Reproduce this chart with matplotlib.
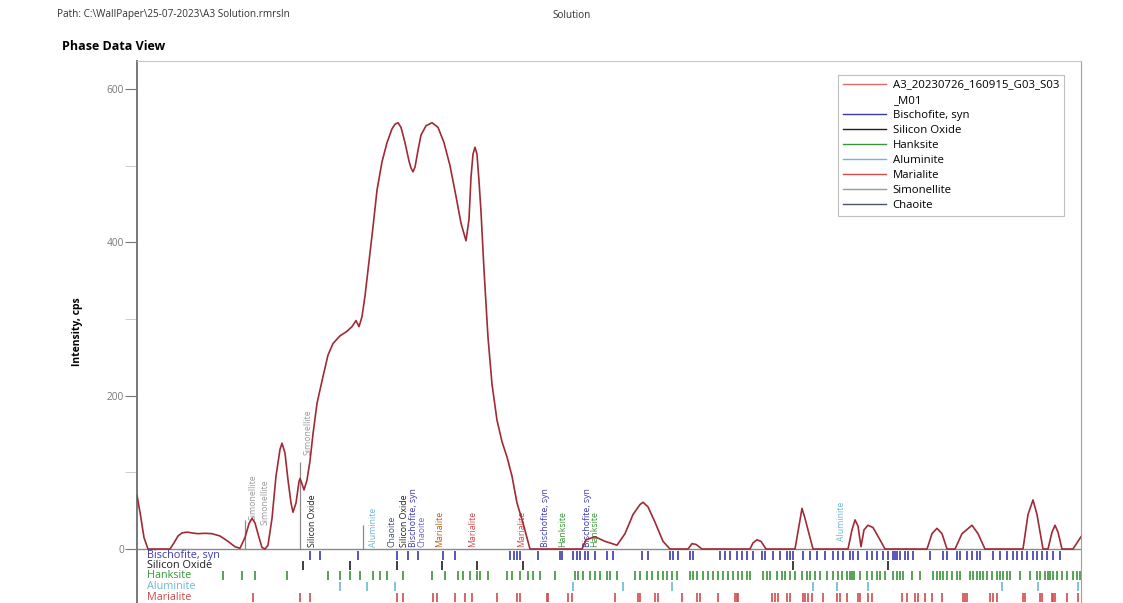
import numpy as np
import matplotlib.pyplot as plt
from matplotlib.lines import Line2D
from matplotlib.ticker import FixedLocator

plt.rcParams['font.family'] = ['Open Sans', 'DejaVu Sans']

# measured scan: 2theta (deg) / intensity (cps)
two_theta = [13.7, 14.0, 14.4, 14.8, 17.0, 17.4, 17.8, 18.2, 18.7, 19.2, 19.8, 20.5,
             21.2, 22.0, 22.8, 23.5, 24.0, 24.5, 24.9, 25.2, 25.5, 25.9, 26.2, 26.5,
             26.8, 27.2, 27.6, 28.0, 28.2, 28.5, 28.8, 29.1, 29.3, 29.6, 29.9, 30.0,
             30.2, 30.4, 30.7, 31.0, 31.3, 31.7, 32.3, 32.8, 33.3, 34.0, 34.7, 35.2,
             35.6, 35.9, 36.2, 36.5, 36.8, 37.3, 37.7, 38.2, 38.7, 39.2, 39.5, 39.8,
             40.1, 40.5, 40.9, 41.1, 41.3, 41.5, 41.8, 42.1, 42.6, 43.2, 43.8, 44.4,
             45.0, 45.6, 46.1, 46.6, 46.9, 47.1, 47.3, 47.5, 47.7, 47.9, 48.1, 48.4,
             48.8, 49.2, 49.7, 50.2, 50.7, 51.2, 51.7, 52.3, 52.8, 53.0, 58.2, 58.6,
             59.5, 60.5, 61.7, 62.5, 63.3, 64.0, 64.3, 64.8, 65.5, 66.3, 67.0, 68.8,
             69.2, 69.6, 70.2, 75.0, 75.3, 75.7, 76.1, 76.6, 79.5, 79.9, 80.2, 80.5,
             81.0, 81.3, 84.8, 85.2, 85.5, 85.8, 86.1, 86.4, 86.8, 87.3, 88.0, 88.5,
             92.7, 93.2, 93.7, 94.2, 94.7, 95.5, 96.2, 97.2, 97.8, 98.5, 102.3, 102.8,
             103.3, 103.7, 104.3, 104.8, 105.2, 105.5, 105.8, 106.2, 107.3, 108.1]
intensity = [70, 48, 15, 0, 0, 8, 17, 21, 22, 21, 20, 20.5,
             20, 17, 10, 3, 1, 15, 33, 40, 34, 15, 2, 0,
             5, 40, 95, 130, 138, 125, 90, 60, 48, 60, 88, 92,
             85, 77, 90, 115, 150, 190, 225, 253, 268, 278, 284, 290,
             298, 290, 303, 330, 364, 420, 468, 505, 530, 548, 554, 556,
             550, 530, 506, 497, 492, 498, 520, 540, 552, 556, 550, 530,
             500, 460, 425, 402, 430, 485, 515, 524, 515, 480, 440, 364,
             276, 215, 168, 140, 120, 95, 60, 34, 10, 0, 0, 12,
             16, 10, 5, 20, 45, 58, 61, 55, 35, 10, 0, 0,
             7, 6, 0, 0, 8, 12, 10, 0, 0, 30, 53, 40,
             15, 0, 0, 25, 38, 30, 3, 25, 31, 28, 12, 0,
             0, 20, 27, 20, 0, 0, 20, 31, 20, 0, 0, 45,
             64, 45, 0, 0, 22, 31, 22, 0, 0, 16]

# identified peaks labelled above the baseline
marker_names = ['Simonellite', 'Simonellite', 'Simonellite', 'Silicon Oxide', 'Aluminite',
                'Chaoite', 'Silicon Oxide', 'Bischofite, syn', 'Chaoite', 'Marialite',
                'Marialite', 'Marialite', 'Bischofite, syn', 'Hanksite', 'Bischofite, syn',
                'Hanksite', 'Aluminite']
marker_pos = [25.3, 26.5, 30.8, 31.2, 37.3, 39.2, 40.4, 41.3, 42.15, 44.0,
              47.3, 52.2, 54.5, 56.3, 58.7, 59.5, 84.1]
marker_base = [38, 31, 123, 2, 2, 2, 2, 2, 2, 2, 2, 2, 2, 2, 2, 2, 10]

# marker lines (2theta, height)
line_pos = [24.5, 30.0, 36.3]
line_height = [38, 114, 31]

# reference stick patterns
bischofite_sticks = [31.0, 32.0, 35.8, 39.7, 40.8, 41.8, 44.3, 45.5, 51.0, 51.4, 51.7, 52.0,
                     53.8, 56.0, 56.2, 57.3, 57.7, 58.0, 58.5, 58.8, 59.5, 60.7, 61.3,
                     64.2, 64.8, 67.0, 67.3, 67.8, 69.0, 69.3, 72.0, 72.5, 73.0, 73.7,
                     74.2, 74.7, 75.3, 76.2, 76.5, 77.3, 78.0, 78.7, 79.0, 79.3, 80.3,
                     81.0, 81.7, 82.5, 83.3, 83.8, 84.3, 85.0, 85.3, 85.8, 86.7, 87.2,
                     87.7, 88.3, 88.8, 89.3, 89.5, 89.7, 90.0, 90.5, 90.8, 91.3, 93.0,
                     94.3, 94.7, 95.7, 96.0, 96.7, 97.2, 97.7, 98.0, 99.3, 100.0, 100.7,
                     101.3, 101.7, 102.2, 102.7, 103.3, 103.7, 104.2, 104.7, 105.3, 106.0]
silicon_oxide_sticks = [30.3, 35.0, 39.7, 44.2, 47.7, 52.3, 79.3, 88.8]
hanksite_sticks = [22.3, 24.2, 25.5, 28.7, 32.8, 34.0, 35.0, 36.0, 37.3, 38.0, 38.7, 40.3,
                   43.2, 44.5, 45.8, 46.3, 47.0, 47.7, 48.0, 48.8, 50.7, 51.2, 52.0, 52.8,
                   53.3, 54.0, 55.5, 57.5, 57.8, 58.3, 59.0, 59.5, 60.0, 60.7, 61.0, 61.7,
                   63.5, 64.0, 64.7, 65.2, 65.8, 66.3, 66.7, 67.2, 67.7, 69.0, 69.3, 69.7,
                   70.3, 70.8, 71.3, 71.8, 72.3, 72.8, 73.3, 73.8, 74.2, 74.7, 75.0, 76.3,
                   76.7, 77.0, 77.7, 78.2, 78.5, 79.0, 79.5, 80.2, 80.7, 81.0, 81.5, 82.0,
                   82.7, 83.3, 83.8, 84.2, 84.7, 85.0, 85.2, 85.4, 86.0, 86.7, 87.2, 87.7,
                   88.0, 88.5, 89.3, 89.7, 90.0, 90.3, 91.2, 92.0, 93.3, 93.7, 94.0, 94.3,
                   94.7, 95.2, 95.7, 96.0, 97.0, 97.3, 97.7, 98.0, 98.3, 98.7, 99.2, 99.7,
                   100.0, 100.3, 100.7, 101.0, 102.0, 103.0, 103.7, 104.0, 104.5, 104.8,
                   105.0, 105.3, 105.7, 106.2, 106.7, 107.3, 107.7, 108.0]
aluminite_sticks = [34.0, 36.7, 39.5, 57.3, 62.3, 67.2, 81.3, 83.7, 86.8, 100.2, 103.8, 107.8]
marialite_sticks = [25.3, 30.0, 31.0, 39.7, 40.3, 43.3, 43.7, 45.5, 46.5, 47.2, 49.7, 51.7,
                    52.0, 54.7, 54.8, 56.8, 57.2, 61.5, 63.8, 64.0, 65.5, 65.8, 68.2, 69.7,
                    70.0, 71.8, 73.5, 73.7, 73.8, 77.2, 77.5, 77.8, 78.7, 79.0, 80.3, 80.5,
                    80.8, 81.2, 82.3, 83.7, 84.0, 84.7, 85.8, 86.0, 86.8, 87.2, 90.2, 90.7,
                    91.5, 91.8, 92.5, 93.2, 94.2, 96.3, 96.5, 96.7, 99.0, 99.3, 99.7, 102.3,
                    102.5, 104.0, 104.2, 105.2, 105.3, 105.5, 106.7, 107.8]

scan_name = ['A3_20230726_160915_G03_S03', '_M01']
phase_colors = {'Bischofite, syn': '#3b3bb0', 'Silicon Oxide': '#1e1e1e',
                'Hanksite': '#3a943a', 'Aluminite': '#6cb8d4', 'Marialite': '#d24a4a',
                'Simonellite': '#9a9a9a', 'Chaoite': '#4a5670'}
label_colors = [phase_colors[n] for n in marker_names]
label_colors[9] = '#b8620a'
label_colors[8] = '#6c70c8'

fig = plt.figure(figsize=(11.23, 6.03), dpi=100)
ax = fig.add_axes([137 / 1123, 0, 944 / 1123, 542 / 603])
ax.set_xlim(13.7, 108.1)
ax.set_ylim(-70.4, 636.5)

ax.axhline(0, color='#8a8a8a', lw=1.0, zorder=1)
ax.plot(two_theta, intensity, color='#a02a36', lw=1.2, zorder=4)

for x, h in zip(line_pos, line_height):
    ax.vlines(x, 0, h, color='#8a8a8a', lw=0.9, zorder=2)
for name, x, b, c in zip(marker_names, marker_pos, marker_base, label_colors):
    ax.text(x, b, name, rotation=90, ha='center', va='bottom', fontsize=6.3, color=c, zorder=3)

# stick rows under the baseline
rows = [('Bischofite, syn', bischofite_sticks, -8),
        ('Silicon Oxide', silicon_oxide_sticks, -22),
        ('Hanksite', hanksite_sticks, -35),
        ('Aluminite', aluminite_sticks, -49),
        ('Marialite', marialite_sticks, -63)]
for name, sticks, yc in rows:
    ax.vlines(sticks, yc - 6, yc + 6, color=phase_colors[name], lw=1.2)
    ax.text(14.7, yc, name, fontsize=7.8, color=phase_colors[name], va='center', ha='left')

ax.yaxis.set_major_locator(FixedLocator([0, 200, 400, 600]))
ax.yaxis.set_minor_locator(FixedLocator([100, 300, 500]))
ax.tick_params(axis='y', which='major', length=9, color='#777777', labelsize=7.3,
               labelcolor='#777777', pad=0.5)
ax.tick_params(axis='y', which='minor', length=9, color='#c4c4c4')
ax.set_xticks([])
ax.set_ylabel('Intensity, cps', fontsize=7.5, fontweight='bold')
ax.yaxis.set_label_coords(-0.057, 0.5)

ax.spines['left'].set_color('#777777')
ax.spines['left'].set_linewidth(1.4)
ax.spines['top'].set_color('#c8c8c8')
ax.spines['right'].set_color('#a0a0a0')
ax.spines['bottom'].set_visible(False)

# scan name wraps onto a second legend row with no handle
handles = [Line2D([], [], color='#d86a6a', lw=1), Line2D([], [], color='none', lw=0)]
labels = list(scan_name)
for name in ['Bischofite, syn', 'Silicon Oxide', 'Hanksite', 'Aluminite', 'Marialite',
             'Simonellite', 'Chaoite']:
    handles.append(Line2D([], [], color=phase_colors[name], lw=1))
    labels.append(name)
leg = fig.legend(handles, labels, loc='upper left', bbox_to_anchor=(838 / 1123, 1 - 75 / 603),
                 fontsize=8.2, frameon=True, fancybox=False, edgecolor='#b0b0b0',
                 handlelength=3.8, handletextpad=0.6, labelspacing=0.36, borderpad=0.4,
                 borderaxespad=0)
leg.get_frame().set_linewidth(0.8)

fig.text(57 / 1123, 1 - 15 / 603, 'Path: C:\\WallPaper\\25-07-2023\\A3 Solution.rmrsln',
         fontsize=7.2, color='#333333', va='center', ha='left')
fig.text(552 / 1123, 1 - 15 / 603, 'Solution', fontsize=7.2, color='#333333',
         va='center', ha='left')
fig.text(62 / 1123, 1 - 46 / 603, 'Phase Data View', fontsize=9, fontweight='bold',
         va='center', ha='left')

fig.savefig('out.png', dpi=100)
